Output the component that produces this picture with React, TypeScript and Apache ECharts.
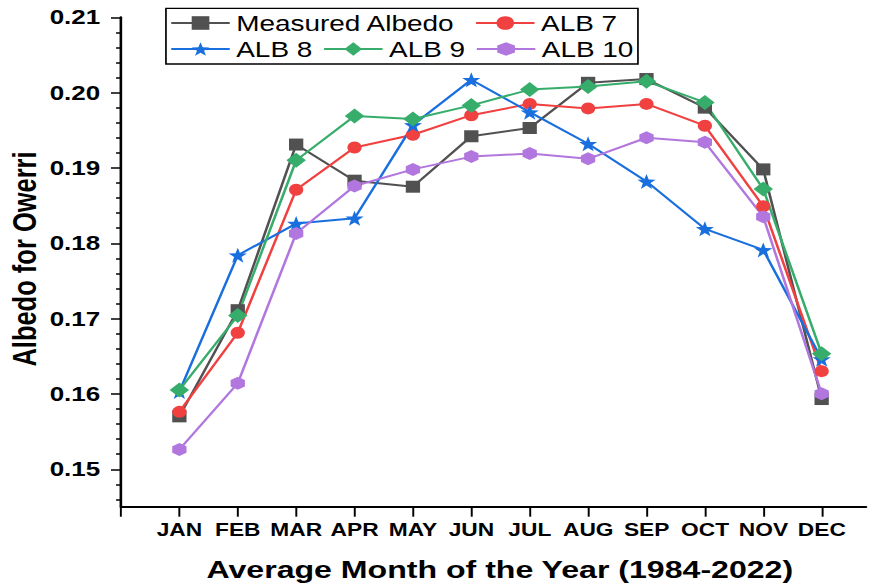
import React, { useEffect, useRef } from 'react';
import * as echarts from 'echarts';

const months = ['JAN', 'FEB', 'MAR', 'APR', 'MAY', 'JUN', 'JUL', 'AUG', 'SEP', 'OCT', 'NOV', 'DEC'];
const measured = [0.1570, 0.1711, 0.1931, 0.1883, 0.1875, 0.1942, 0.1953, 0.2013, 0.2018, 0.1980, 0.1898, 0.1593];
const alb7 = [0.1576, 0.1681, 0.1871, 0.1927, 0.1944, 0.1970, 0.1985, 0.1979, 0.1985, 0.1956, 0.1849, 0.1630];
const alb8 = [0.1603, 0.1784, 0.1826, 0.1833, 0.1957, 0.2017, 0.1974, 0.1932, 0.1882, 0.1819, 0.1791, 0.1646];
const alb9 = [0.1605, 0.1704, 0.1910, 0.1969, 0.1965, 0.1983, 0.2004, 0.2008, 0.2015, 0.1987, 0.1872, 0.1653];
const alb10 = [0.1526, 0.1614, 0.1813, 0.1876, 0.1898, 0.1915, 0.1919, 0.1912, 0.1940, 0.1934, 0.1835, 0.1600];

const FONT = "'Liberation Sans', Arial, Helvetica, sans-serif";
const STAR = 'path://M0,-1 L0.235,-0.324 L0.951,-0.309 L0.380,0.124 L0.588,0.809 L0,0.4 L-0.588,0.809 L-0.380,0.124 L-0.951,-0.309 L-0.235,-0.324 Z';
const HEX = 'path://M0,-1 L0.866,-0.5 L0.866,0.5 L0,1 L-0.866,0.5 L-0.866,-0.5 Z';

const W = 671;
const H = 585;
const SX = 872 / W;

export default function App() {
  const ref = useRef<HTMLDivElement>(null);
  useEffect(() => {
    if (!ref.current) return;
    const chart = echarts.init(ref.current, null, { renderer: 'svg' });
    const mk = (name: string, arr: number[], color: string, symbol: string, size: any) => ({
      name,
      type: 'line',
      xAxisIndex: 0,
      yAxisIndex: 0,
      data: arr.map((v, i) => [i + 1, v]),
      symbol,
      symbolSize: size,
      showAllSymbol: true,
      itemStyle: { color, opacity: 1 },
      lineStyle: { color, width: 2 },
      emphasis: { disabled: true },
    });
    const axisBlack = { color: '#000' };
    const legendText = { fontFamily: FONT, fontSize: 21.5, color: '#000', lineHeight: 22 };
    const option: any = {
      animation: false,
      grid: [
        { left: 93.1, right: 4.6, top: 17.3, bottom: 78.3 },
        { left: 93.1, right: 38.6, top: 17.3, bottom: 78.3 },
        { left: 93.1, right: 4.6, top: 17.3, bottom: 115.7 },
        { left: 93.1, right: 4.6, top: 484.4, bottom: 85.6 },
      ],
      xAxis: [
        {
          gridIndex: 0, type: 'value', min: 0, max: 12.76,
          axisLine: { show: true, onZero: false, lineStyle: { ...axisBlack, width: 2 } },
          axisTick: { show: false }, axisLabel: { show: false }, splitLine: { show: false },
        },
        {
          gridIndex: 1, type: 'value', min: 0, max: 12, interval: 1,
          axisLine: { show: false, onZero: false },
          axisTick: { show: true, length: 10, lineStyle: { ...axisBlack, width: 1.5 } },
          axisLabel: {
            formatter: (v: number) => months[v - 1] ?? '',
            fontWeight: 'bold', fontSize: 17.5, fontFamily: FONT, color: '#000', margin: 14,
          },
          splitLine: { show: false },
        },
        { gridIndex: 2, type: 'value', show: false, min: 0, max: 1 },
        { gridIndex: 3, type: 'value', show: false, min: 0, max: 1 },
      ],
      yAxis: [
        {
          gridIndex: 0, type: 'value', min: 0.145, max: 0.21,
          axisLine: { show: true, onZero: false, lineStyle: { ...axisBlack, width: 2 } },
          axisTick: { show: false }, axisLabel: { show: false }, splitLine: { show: false },
        },
        { gridIndex: 1, type: 'value', show: false, min: 0, max: 1 },
        {
          gridIndex: 2, type: 'value', min: 0.15, max: 0.21, interval: 0.01,
          axisLine: { show: false, onZero: false },
          axisTick: { show: true, length: 7.7, lineStyle: { ...axisBlack, width: 1.5 } },
          minorTick: { show: true, splitNumber: 5, length: 3.8, lineStyle: { ...axisBlack, width: 1.5 } },
          axisLabel: {
            formatter: (v: number) => v.toFixed(2),
            fontWeight: 'bold', fontSize: 20, fontFamily: FONT, color: '#000', margin: 16,
          },
          splitLine: { show: false }, minorSplitLine: { show: false },
        },
        {
          gridIndex: 3, type: 'value', min: 0.146, max: 0.148, interval: 0.002,
          axisLine: { show: false, onZero: false },
          axisTick: { show: true, length: 3.8, lineStyle: { ...axisBlack, width: 1.5 } },
          axisLabel: { show: false }, splitLine: { show: false },
        },
      ],
      legend: [
        {
          data: ['Measured Albedo', 'ALB 7'], left: 130.8, top: 12, padding: 0,
          itemWidth: 45, itemHeight: 17, itemGap: 15,
          textStyle: legendText,
        },
        {
          data: ['ALB 8', 'ALB 9', 'ALB 10'], left: 130.8, top: 38, padding: 0,
          itemWidth: 45, itemHeight: 17, itemGap: 8,
          textStyle: legendText,
        },
      ],
      graphic: [
        {
          type: 'rect', shape: { x: 127.7, y: 8.3, width: 363.2, height: 55.7 },
          style: { fill: 'none', stroke: '#000', lineWidth: 1.3 }, z: 100,
        },
        {
          type: 'text', x: 384.6, y: 569,
          style: {
            text: 'Average Month of the Year (1984-2022)', font: `bold 24.7px ${FONT}`,
            fill: '#000', textAlign: 'center', textVerticalAlign: 'middle',
          },
        },
        {
          type: 'text', x: 18.5, y: 259, rotation: Math.PI / 2,
          style: {
            text: 'Albedo for Owerri', font: `bold 25.5px ${FONT}`,
            fill: '#000', textAlign: 'center', textVerticalAlign: 'middle',
          },
        },
      ],
      series: [
        mk('Measured Albedo', measured, '#515151', 'rect', [11, 12]),
        mk('ALB 7', alb7, '#F14040', 'circle', [11, 12]),
        mk('ALB 8', alb8, '#1A6FDF', STAR, [14, 15]),
        mk('ALB 9', alb9, '#37AD6B', 'diamond', [15, 15]),
        mk('ALB 10', alb10, '#B177DE', HEX, [11, 13]),
      ],
    };
    chart.setOption(option);
    return () => chart.dispose();
  }, []);
  return (
    <div style={{ position: 'absolute', left: 0, top: 0, width: 872, height: H, overflow: 'hidden', background: '#fff' }}>
      <div
        ref={ref}
        style={{ width: W, height: H, transform: `scaleX(${SX})`, transformOrigin: '0 0' }}
      />
    </div>
  );
}
